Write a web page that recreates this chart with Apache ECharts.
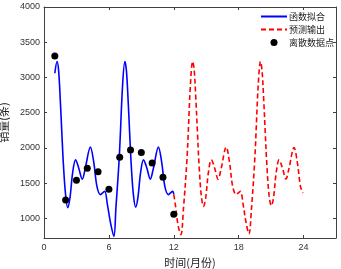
<!DOCTYPE html>
<html><head><meta charset="utf-8">
<script src="https://cdn.jsdelivr.net/npm/echarts@6/dist/echarts.min.js"></script>
<style>html,body{margin:0;padding:0;background:#fff}#c{width:341px;height:269px}</style>
</head><body><div id="c"></div>
<script>
// Discrete data points (month, sales)
const pointMonths = [1,2,3,4,5,6,7,8,9,10,11,12];
const pointValues = [3304,1263,1543,1713,1661,1415,1869,1969,1935,1788,1585,1060];
// Fitted curve
const fitX = [1.0,1.21,1.35,1.5,1.65,1.8,2.0,2.2,2.4,2.65,2.92,3.2,3.54,3.8,4.29,4.6,4.9,5.22,5.42,5.62,5.86,6.15,6.46,6.65,6.96,7.27,7.48,7.62,7.77,7.92,8.07,8.27,8.48,8.68,8.93,9.2,9.5,9.83,10.1,10.58,10.88,11.18,11.5,11.7,11.9,12.0];
const fitY = [3060,3227,3100,2700,2214,1750,1330,1153,1290,1650,1831,1720,1557,1700,2011,1800,1450,1338,1362,1386,1200,936,745,1150,1869,2900,3227,3100,2700,2214,1750,1330,1160,1290,1650,1831,1720,1557,1700,2011,1800,1450,1338,1362,1386,1340];
// Forecast curve
const predX = [12.0,12.14,12.4,12.66,12.9,13.23,13.54,13.75,13.89,14.04,14.19,14.34,14.54,14.75,14.95,15.2,15.47,15.77,16.1,16.37,16.85,17.15,17.45,17.77,17.97,18.17,18.41,18.69,18.95,19.19,19.5,19.81,20.02,20.16,20.31,20.46,20.61,20.81,21.02,21.22,21.47,21.74,22.04,22.37,22.64,23.12,23.42,23.72,23.95];
const predY = [1340,1200,900,770,1150,1869,2900,3227,3100,2700,2214,1750,1330,1170,1290,1650,1831,1720,1557,1700,2011,1800,1450,1338,1362,1386,1200,936,780,1150,1869,2900,3227,3100,2700,2214,1750,1330,1180,1290,1650,1831,1720,1560,1700,2005,1800,1450,1360];
const xTicks = [0,6,12,18,24];
const yTicks = [1000,1500,2000,2500,3000,3500,4000];
const names = ['函数拟合','预测输出','离散数据点'];

const font = 'Liberation Sans, Arial, sans-serif';
const cjk = '"Noto Sans CJK SC", sans-serif';
const axCol = '#404040';
const chart = echarts.init(document.getElementById('c'), null, {renderer:'canvas'});
const baseX = {type:'value', min:0, max:27,
  axisLine:{show:true,onZero:false,lineStyle:{color:axCol,width:1}},
  axisTick:{show:true,inside:true,length:3,customValues:xTicks,lineStyle:{color:axCol}},
  splitLine:{show:false}};
const baseY = {type:'value', min:722, max:4000,
  axisLine:{show:true,onZero:false,lineStyle:{color:axCol,width:1}},
  axisTick:{show:true,inside:true,length:3,customValues:yTicks,lineStyle:{color:axCol}},
  splitLine:{show:false}};
chart.setOption({
  animation:false,
  backgroundColor:'#fff',
  grid:{left:44,top:7,right:5,bottom:31,containLabel:false,outerBoundsMode:'none'},
  legend:{
    orient:'vertical', right:2, top:7, itemGap:4, itemWidth:26, itemHeight:7,
    textStyle:{fontFamily:cjk,fontSize:9,color:'#222',padding:[0,0,0,-3]},
    data:[{name:names[0],itemStyle:{opacity:0}},{name:names[1],itemStyle:{opacity:0}},{name:names[2],icon:'circle',itemStyle:{color:'#000'}}]
  },
  xAxis:[
    Object.assign({}, baseX, {position:'bottom',
      name:'时间(月份)', nameLocation:'middle', nameGap:19,
      nameTextStyle:{fontFamily:cjk,fontSize:11,color:'#222'},
      axisLabel:{show:true,customValues:xTicks,fontFamily:font,fontSize:9,color:'#333',margin:5,formatter:v=>String(v)}}),
    Object.assign({}, baseX, {position:'top', axisLabel:{show:false}})
  ],
  yAxis:[
    Object.assign({}, baseY, {position:'left',
      name:'销量(条)', nameLocation:'middle', nameGap:31, nameRotate:90,
      nameTextStyle:{fontFamily:cjk,fontSize:11,color:'#222'},
      axisLabel:{show:true,customValues:yTicks,fontFamily:font,fontSize:9,color:'#333',margin:4,formatter:v=>String(v)}}),
    Object.assign({}, baseY, {position:'right', axisLabel:{show:false}})
  ],
  series:[
    {name:names[0], type:'line', xAxisIndex:0, yAxisIndex:0, smooth:0.35, showSymbol:false,
     lineStyle:{color:'#0000ff',width:1.6}, itemStyle:{color:'#0000ff'},
     data:fitX.map((x,i)=>[x,fitY[i]])},
    {name:names[1], type:'line', xAxisIndex:0, yAxisIndex:0, smooth:0.35, showSymbol:false,
     lineStyle:{color:'#ff0000',width:1.6,type:[5,3]}, itemStyle:{color:'#ff0000'},
     data:predX.map((x,i)=>[x,predY[i]])},
    {name:names[2], type:'scatter', xAxisIndex:0, yAxisIndex:0, symbol:'circle', symbolSize:7,
     itemStyle:{color:'#000',opacity:1}, z:5,
     data:pointMonths.map((x,i)=>[x,pointValues[i]])}
  ]
});
</script></body></html>
